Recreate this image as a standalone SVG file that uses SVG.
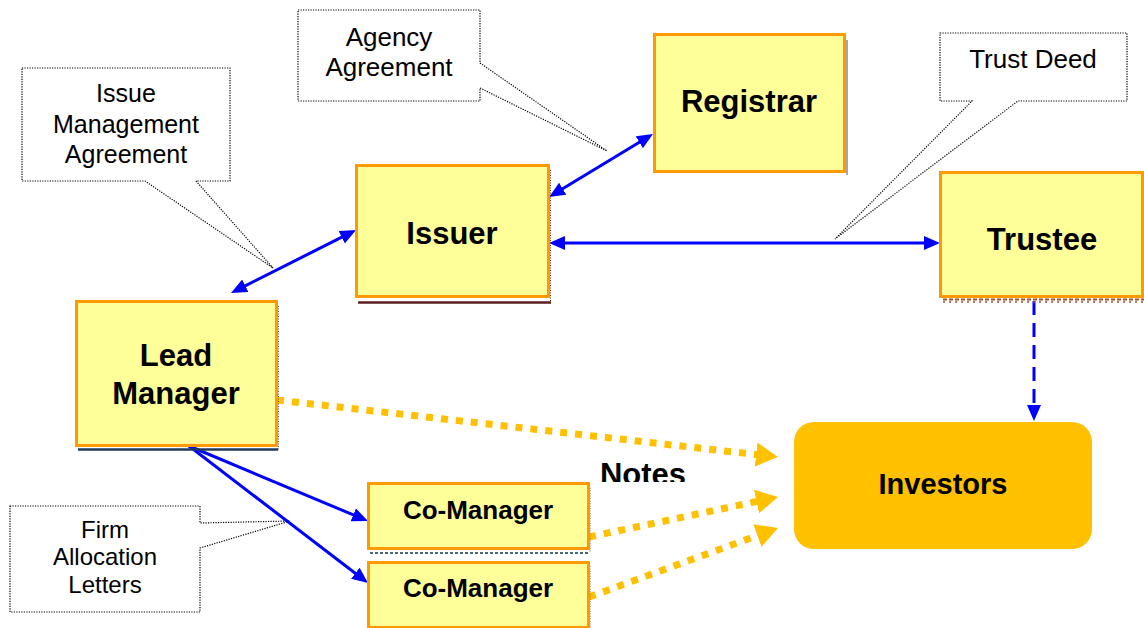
<svg xmlns="http://www.w3.org/2000/svg" width="1144" height="628" viewBox="0 0 1144 628">
  <style>
    .box { fill: #FFFF99; stroke: #FF9900; stroke-width: 3; }
    .inv { fill: #FFC000; }
    .call { fill: #FFFFFF; stroke: #000000; stroke-width: 1.2; stroke-dasharray: 1.2 1.3; }
    .ctext { font-family: "Liberation Sans", Arial, sans-serif; font-size: 25px; fill: #000; text-anchor: middle; }
    .ntext { font-family: "Liberation Sans", Arial, sans-serif; font-weight: bold; fill: #000; text-anchor: middle; }
    .blue { stroke: #0000FF; stroke-width: 3; fill: none; }
    .gold { stroke: #FFC000; stroke-width: 7; stroke-dasharray: 7 8; fill: none; }
  </style>
  <defs>
    <marker id="ab" markerUnits="userSpaceOnUse" markerWidth="16" markerHeight="14" refX="4" refY="7" orient="auto-start-reverse">
      <path d="M0,0 L16,7 L0,14 z" fill="#0000FF"/>
    </marker>
    <marker id="ag" markerUnits="userSpaceOnUse" markerWidth="22" markerHeight="24" refX="4" refY="12" orient="auto">
      <path d="M0,0 L22,12 L0,24 z" fill="#FFC000"/>
    </marker>
    <clipPath id="notesClip">
      <rect x="590" y="450" width="110" height="32"/>
    </clipPath>
  </defs>

  <!-- callouts -->
  <g id="call-ima">
    <path class="call" d="M22,68 H230 V181 H196 L273,268 L145,181 H22 Z"/>
    <text class="ctext" x="126" y="102">Issue</text>
    <text class="ctext" x="126" y="133">Management</text>
    <text class="ctext" x="126" y="163">Agreement</text>
  </g>
  <g id="call-agency">
    <path class="call" d="M298,10 H480 V63 L607,151 L480,88 V101 H298 Z"/>
    <text class="ctext" x="389" y="46" style="font-size:26px">Agency</text>
    <text class="ctext" x="389" y="76" style="font-size:26px">Agreement</text>
  </g>
  <g id="call-trust">
    <path class="call" d="M940,33 H1127 V101 H1018 L835,239 L972,101 H940 Z"/>
    <text class="ctext" x="1033" y="68" style="font-size:26px">Trust Deed</text>
  </g>
  <g id="call-firm">
    <path class="call" d="M10,506 H200 V523 L290,521 L200,548 V612 H10 Z"/>
    <text class="ctext" x="105" y="538" style="font-size:24px">Firm</text>
    <text class="ctext" x="105" y="565" style="font-size:24px">Allocation</text>
    <text class="ctext" x="105" y="593" style="font-size:24px">Letters</text>
  </g>

  <!-- connectors -->
  <g id="connectors">
    <line class="blue" x1="241.7" y1="287.6" x2="345.3" y2="235.4" marker-start="url(#ab)" marker-end="url(#ab)"/>
    <line class="blue" x1="559.3" y1="190.8" x2="642.7" y2="140.2" marker-start="url(#ab)" marker-end="url(#ab)"/>
    <line class="blue" x1="561" y1="243" x2="928" y2="243" marker-start="url(#ab)" marker-end="url(#ab)"/>
    <line class="blue" x1="1034" y1="301" x2="1034" y2="409" stroke-dasharray="14 8" marker-end="url(#ab)"/>
    <line class="blue" x1="189" y1="446" x2="356.9" y2="516.4" marker-end="url(#ab)"/>
    <line class="blue" x1="189" y1="446" x2="358.5" y2="575.7" marker-end="url(#ab)"/>
    <line class="gold" x1="277" y1="400" x2="760.1" y2="455" marker-end="url(#ag)"/>
    <line class="gold" x1="589" y1="537" x2="760.4" y2="500.7" marker-end="url(#ag)"/>
    <line class="gold" x1="589" y1="597" x2="761.1" y2="534.2" marker-end="url(#ag)"/>
  </g>

  <text class="ntext" x="643" y="485" font-size="31" clip-path="url(#notesClip)">Notes</text>

  <!-- nodes -->
  <g id="registrar">
    <line x1="847" y1="40" x2="847" y2="175" stroke="#8A8A7A" stroke-width="1.5"/>
    <rect class="box" x="654.5" y="34.5" width="190" height="137"/>
    <text class="ntext" x="749" y="112" font-size="31">Registrar</text>
  </g>
  <g id="issuer">
    <line x1="358" y1="302.5" x2="551" y2="302.5" stroke="#5A1E1E" stroke-width="2.5"/>
    <line x1="550.5" y1="170" x2="550.5" y2="302" stroke="#5A1E1E" stroke-width="1" stroke-dasharray="1 1.5"/>
    <rect class="box" x="356.5" y="165.5" width="192" height="131"/>
    <text class="ntext" x="452" y="244" font-size="31">Issuer</text>
  </g>
  <g id="trustee">
    <line x1="943" y1="299.5" x2="1144" y2="299.5" stroke="#A0522D" stroke-width="2" stroke-dasharray="4 2"/>
    <line x1="943" y1="302" x2="1144" y2="302" stroke="#A0522D" stroke-width="1.5" stroke-dasharray="2 4"/>
    <rect class="box" x="940.5" y="172.5" width="202" height="124"/>
    <text class="ntext" x="1042" y="250" font-size="31">Trustee</text>
  </g>
  <g id="lead-manager">
    <line x1="78" y1="449.5" x2="278" y2="449.5" stroke="#1F3A5F" stroke-width="2.5"/>
    <line x1="278.5" y1="306" x2="278.5" y2="450" stroke="#555" stroke-width="1" stroke-dasharray="1 1.5"/>
    <rect class="box" x="76.5" y="301.5" width="200" height="144"/>
    <text class="ntext" x="176" y="366" font-size="31">Lead</text>
    <text class="ntext" x="176" y="404" font-size="31">Manager</text>
  </g>
  <g id="co-manager-1">
    <line x1="370" y1="553" x2="590" y2="553" stroke="#4A6A80" stroke-width="2" stroke-dasharray="3 2"/>
    <line x1="590" y1="488" x2="590" y2="553" stroke="#555" stroke-width="1" stroke-dasharray="1 1.5"/>
    <rect class="box" x="368.5" y="483.5" width="220" height="65"/>
    <text class="ntext" x="478" y="519" font-size="26">Co-Manager</text>
  </g>
  <g id="co-manager-2">
    <line x1="590" y1="566" x2="590" y2="628" stroke="#555" stroke-width="1" stroke-dasharray="1 1.5"/>
    <rect class="box" x="368.5" y="562.5" width="220" height="65"/>
    <text class="ntext" x="478" y="597" font-size="26">Co-Manager</text>
  </g>
  <g id="investors">
    <rect class="inv" x="794" y="422" width="298" height="127" rx="20" ry="20"/>
    <text class="ntext" x="943" y="494" font-size="29">Investors</text>
  </g>
</svg>
